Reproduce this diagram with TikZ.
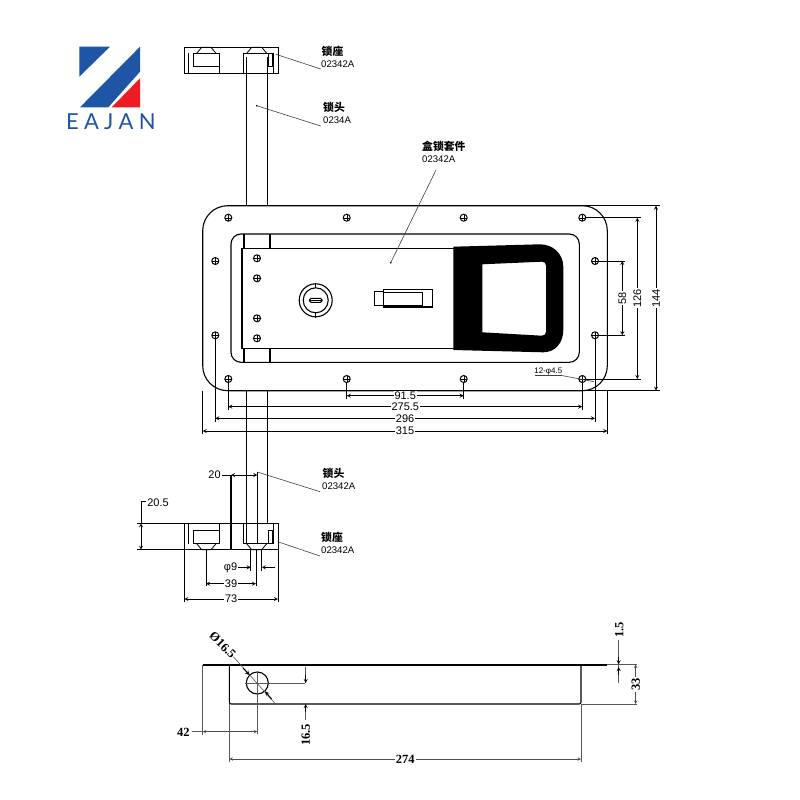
\documentclass[tikz,border=0pt]{standalone}
\usepackage{fontspec}
\setmainfont{Liberation Sans}
\newfontfamily\cjkfont{Noto Sans CJK SC}
\newfontfamily\serfont{Liberation Serif}
\newfontfamily\logofont[LetterSpace=24]{Lato}
\usetikzlibrary{arrows, positioning}
\definecolor{logoblue}{HTML}{1F55A5}
\definecolor{logored}{HTML}{ED1C24}

\tikzset{
    seat/.pic={
        \draw[part] (0,0) rectangle (94,26);
        \draw[part] (4,6) -- (4,26);
        \draw[part] (9,19) -- (9,6) -- (35,6) -- (35,26);
        \draw[part] (9,19) -- (35,19);
        \draw[thinpart] (12.4,6) -- (17.4,0) -- (26.7,0) -- (31.7,6);
        \draw[part] (59,26) -- (59,6) -- (89,6) -- (89,26);
        \draw[thinpart] (62.4,6) -- (67.4,0) -- (77.4,0) -- (82.4,6);
        \draw[thinpart] (84,6) rectangle (88.4,19);
    }
}

\begin{document}
\begin{tikzpicture}[
    x=1pt, y=-1pt,
    part/.style={line width=1.1pt, black},
    thinpart/.style={line width=0.8pt, black},
    extline/.style={line width=0.9pt, black},
    dimline/.style={line width=0.8pt, black, <->, >=stealth},
    dimplain/.style={line width=0.8pt, black},
    sideext/.style={line width=0.6pt, black!65},
    sidedim/.style={line width=0.6pt, black!70, <->, >=stealth},
    leader/.style={line width=0.6pt, black!75},
    hole/.style={circle, draw, line width=1pt, inner sep=0pt, minimum size=7pt,
        path picture={
            \draw[line width=0.4pt] (path picture bounding box.north) -- (path picture bounding box.south);
            \draw[line width=0.4pt] (path picture bounding box.west) -- (path picture bounding box.east);
        }},
    dimtext/.style={fill=white, text=black, inner sep=0.8pt, font=\fontsize{11}{11}\selectfont},
    sidetext/.style={fill=white, text=black, inner sep=1pt, font=\fontsize{12.5}{12}\serfont\bfseries},
    partname/.style={anchor=west, inner sep=0pt, font=\fontsize{10.8}{10}\cjkfont\bfseries},
    partcode/.style={anchor=west, inner sep=0pt, font=\fontsize{9.6}{10}\selectfont}
]
\useasboundingbox (0,0) rectangle (800,800);
\fill[white] (0,0) rectangle (800,800);

% logo
\fill[logoblue] (79.3,46.7) -- (110,46.7) -- (79.3,76.7) -- cycle;
\fill[logoblue] (140,46.7) -- (140,71.7) -- (108.3,107.3) -- (80,107.3) -- cycle;
\fill[logored] (140,78.3) -- (140,107.3) -- (111.7,107.3) -- cycle;
\node[text=logoblue, inner sep=0pt, font=\fontsize{22}{22}\logofont] (logotext) at (110.8,122) {EAJAN};

% top seat and shaft
\pic at (184.3,47.3) {seat};
\draw[part] (246.7,56.7) -- (246.7,206);
\draw[part] (267.3,56.7) -- (267.3,206);

% plate
\draw[part, rounded corners=25pt] (202.7,205.7) rectangle (607.3,390.7);
\draw[part, rounded corners=10pt] (231,234) rectangle (579.3,362.3);
\draw[part] (244,234) -- (244,249);
\draw[part] (270,234) -- (270,249);
\draw[part] (244,348) -- (244,362.3);
\draw[part] (270,348) -- (270,362.3);
\draw[part] (242,248.3) rectangle (454.3,348.3);

% mounting holes
\foreach \hx in {228.3,346.7,463.7,582.3} {
    \node[hole] at (\hx,217.7) {};
    \node[hole] at (\hx,379) {};
}
\foreach \hx in {215.3,595} {
    \node[hole] at (\hx,261) {};
    \node[hole] at (\hx,335.3) {};
}
\foreach \hy in {258.3,278.3,318.3,338.3} {
    \node[hole] at (257,\hy) {};
}

% key cylinder
\draw[part] (315.7,300.3) circle (16.5);
\draw[part] (315.7,300.3) circle (12.5);
\draw[thinpart] (315.7,283) -- (315.7,288);
\draw[thinpart] (315.7,312.5) -- (315.7,317.5);
\draw[part, rounded corners=1.5pt] (309.5,298.3) rectangle (322,302.3);
\draw[thinpart] (309.5,300.3) -- (322,300.3);

% latch
\draw[thinpart] (374.3,291.3) rectangle (383.3,305.3);
\draw[part] (383.3,289.3) rectangle (432.3,307);
\draw[part] (383.3,292.3) -- (422.7,292.3) -- (422.7,305.7) -- (383.3,305.7);

% handle
\fill[black, even odd rule] (453.3,246.7) -- (540,244.3)
    .. controls (553,244.3) and (563.3,254) .. (563.3,266.7) -- (563.3,330)
    .. controls (563.3,343) and (555,352.3) .. (543.3,352.3) -- (453.3,350) -- cycle
    (482.3,264.3) -- (541.7,261.7)
    .. controls (544.5,261.7) and (546,263) .. (546,265.7) -- (546,331.7)
    .. controls (546,334.5) and (544.5,335.7) .. (541.7,335.7) -- (482.3,332.3) -- cycle;

% bottom shaft and seat
\draw[part] (246.7,390.7) -- (246.7,542.7);
\draw[part] (267.3,390.7) -- (267.3,523.3);
\draw[part] (257.3,472) -- (257.3,543.3);
\pic[yscale=-1] at (184.3,549.7) {seat};
\draw[part] (231,475) -- (231,549.7);

% labels
\node[partname] (seatname1) at (321.5,51) {锁座};
\node[partcode] (seatcode1) at (321,63.7) {02342A};
\node[partname] (headname1) at (323,107.3) {锁头};
\node[partcode] (headcode1) at (323,120) {0234A};
\node[partname] (kitname) at (422,146) {盒锁套件};
\node[partcode] (kitcode) at (422,159) {02342A};
\node[partname] (headname2) at (322.5,473.5) {锁头};
\node[partcode] (headcode2) at (322,486.5) {02342A};
\node[partname] (seatname2) at (321,537) {锁座};
\node[partcode] (seatcode2) at (321,550) {02342A};

\coordinate (seatend1) at (276,54.3);
\coordinate (headend1) at (256.7,105.7);
\coordinate (kitend) at (390.7,262.7);
\coordinate (headend2) at (257.3,472);
\coordinate (seatend2) at (277.7,541.7);
\draw[leader] (seatend1) -- (320.7,69);
\draw[leader] (headend1) -- (320.7,126);
\draw[leader] (kitend) -- (436,170);
\draw[leader] (headend2) -- (320,491.7);
\draw[leader] (seatend2) -- (320,556);
\fill (headend1) circle (0.9);
\fill (kitend) circle (0.9);

% plate dimensions, below
\draw[extline] (346.7,382) -- (346.7,399);
\draw[extline] (463.7,382) -- (463.7,399);
\draw[extline] (228.3,382) -- (228.3,410);
\draw[extline] (582.3,382) -- (582.3,410);
\draw[extline] (215.3,338) -- (215.3,421.7);
\draw[extline] (595,338) -- (595,421.7);
\draw[extline] (202.7,390.7) -- (202.7,434);
\draw[extline] (607.3,390.7) -- (607.3,434);
\draw[dimline] (346.7,395.7) -- node[dimtext] (dima) {91.5} (463.7,395.7);
\draw[dimline] (228.3,406.7) -- node[dimtext] (dimb) {275.5} (582.3,406.7);
\draw[dimline] (215.3,418.3) -- node[dimtext] (dimc) {296} (595,418.3);
\draw[dimline] (202.7,431) -- node[dimtext] (dimd) {315} (607.3,431);

% plate dimensions, right
\draw[extline] (582,205.7) -- (660,205.7);
\draw[extline] (582,390.7) -- (660,390.7);
\draw[extline] (585.5,217.7) -- (640.7,217.7);
\draw[extline] (585.5,379) -- (640.7,379);
\draw[extline] (598.5,261) -- (625,261);
\draw[extline] (598.5,335.3) -- (625,335.3);
\draw[dimline] (656,205.7) -- node[dimtext, rotate=90] (dime) {144} (656,390.7);
\draw[dimline] (637.3,217.7) -- node[dimtext, rotate=90] (dimf) {126} (637.3,379);
\draw[dimline] (622.3,261) -- node[dimtext, rotate=90] (dimg) {58} (622.3,335.3);
\node[inner sep=0pt, font=\fontsize{8}{8}\selectfont] (holes) at (548.3,371.7) {12-φ4.5};
\draw[leader] (535,375.5) -- (561.7,375.5) -- (594,381.7);

% seat dimensions
\draw[extline] (137.3,523.3) -- (185,523.3);
\draw[extline] (137.3,549.7) -- (185,549.7);
\draw[dimline] (141,523.3) -- (141,549.7);
\draw[dimplain] (141,523.3) -- (141,501.7) -- (146.7,501.7);
\node[dimtext] (dimh) at (158,503) {20.5};
\draw[dimplain] (222,475) -- (231,475);
\draw[dimline] (231,475) -- (257.3,475);
\node[dimtext] (dimi) at (214.5,475) {20};
\draw[extline] (250.7,549.7) -- (250.7,570.5);
\draw[extline] (261.7,549.7) -- (261.7,570.5);
\draw[dimplain, ->, >=stealth] (238.3,567.3) -- (250.7,567.3);
\draw[dimplain, ->, >=stealth] (275,567.3) -- (261.7,567.3);
\node[dimtext] (dimj) at (230.5,567.3) {φ9};
\draw[extline] (206,549.7) -- (206,586);
\draw[extline] (256,549.7) -- (256,586);
\draw[dimline] (206,583.7) -- node[dimtext] (dimk) {39} (256,583.7);
\draw[extline] (184.3,549.7) -- (184.3,601.7);
\draw[extline] (278,549.7) -- (278,601.7);
\draw[dimline] (184.3,599) -- node[dimtext] (diml) {73} (278,599);

% side view
\draw[line width=1.6pt] (202.7,665) -- (607.3,665);
\draw[part, rounded corners=2pt] (229.3,665.5) -- (229.3,704) -- (581,704) -- (581,665.5);
\draw[line width=1.1pt] (257.3,683) circle (11);

\draw[sideext] (245,683) -- (305,683);
\draw[sideext] (257.3,671.7) -- (257.3,733.5);
\draw[sideext] (202.7,665) -- (202.7,735);
\draw[sidedim] (202.7,731.7) -- (257.3,731.7);
\draw[sideext] (191.7,731.7) -- (202.7,731.7);
\node[sidetext] (dimm) at (183.3,732) {42};

\draw[sideext] (229.3,704) -- (229.3,761.5);
\draw[sideext] (581,704) -- (581,761.5);
\draw[sidedim] (229.3,759) -- node[sidetext] (dimn) {274} (581,759);

% 16.5 with arrows from outside
\draw[sideext] (305.7,666.7) -- (305.7,683);
\draw[sideext] (305.7,704) -- (305.7,720);
\draw[black, ->, >=stealth, line width=0.8pt] (305.7,675) -- (305.7,683);
\draw[black, ->, >=stealth, line width=0.8pt] (305.7,712) -- (305.7,704);
\node[sidetext, rotate=90] (dimo) at (305.7,735) {16.5};

% hole diameter
\draw[sideext] (233.3,656.7) -- (275,703.3);
\draw[black, ->, >=stealth, line width=1pt] (243,668) -- (249.5,675);
\draw[black, ->, >=stealth, line width=1pt] (271.5,699) -- (265,691.3);
\node[fill=none, text=black, inner sep=0pt, rotate=-45, font=\fontsize{12.5}{12}\serfont\bfseries] (dimp) at (222.7,645) {Ø16.5};

% flange and depth
\draw[sideext] (607.3,664.5) -- (637,664.5);
\draw[sideext] (581,704) -- (637,704);
\draw[sidedim] (635.7,664.5) -- node[sidetext, rotate=90] (dimq) {33} (635.7,704);
\draw[sideext] (618.7,640) -- (618.7,682.7);
\draw[black, ->, >=stealth, line width=0.8pt] (618.7,657) -- (618.7,664.3);
\draw[black, ->, >=stealth, line width=0.8pt] (618.7,675) -- (618.7,667);
\node[sidetext, rotate=90] (dimr) at (619.3,630) {1.5};

\end{tikzpicture}
\end{document}
